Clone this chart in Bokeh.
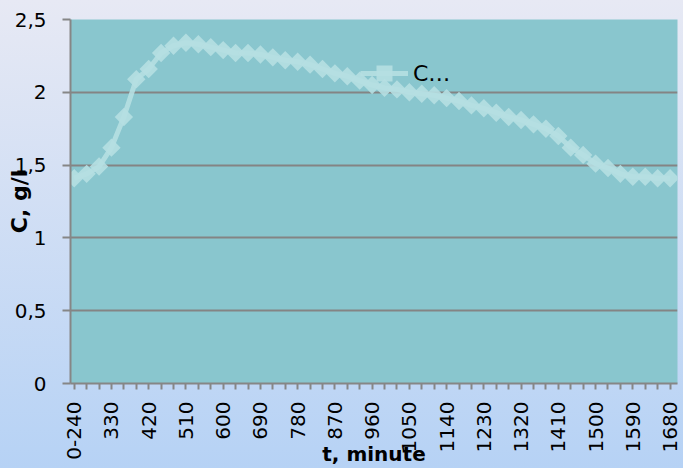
import math
from bokeh.plotting import figure
from bokeh.models import FixedTicker, Legend, LegendItem, Range1d, InlineStyleSheet
from bokeh.embed import file_html
from bokeh.resources import INLINE

categories = ["0-240", "270", "300", "330", "360", "390", "420", "450", "480", "510",
              "540", "570", "600", "630", "660", "690", "720", "750", "780", "810",
              "840", "870", "900", "930", "960", "990", "1020", "1050", "1080", "1110",
              "1140", "1170", "1200", "1230", "1260", "1290", "1320", "1350", "1380", "1410",
              "1440", "1470", "1500", "1530", "1560", "1590", "1620", "1650", "1680"]
values = [1.41, 1.44, 1.49, 1.62, 1.83, 2.09, 2.16, 2.27, 2.32, 2.34,
          2.33, 2.31, 2.29, 2.27, 2.27, 2.26, 2.24, 2.22, 2.21, 2.19,
          2.16, 2.13, 2.11, 2.08, 2.05, 2.03, 2.02, 2.00, 1.99, 1.98,
          1.96, 1.94, 1.91, 1.89, 1.86, 1.83, 1.81, 1.78, 1.75, 1.70,
          1.62, 1.57, 1.51, 1.48, 1.44, 1.42, 1.42, 1.41, 1.41]
y_ticks = [0, 0.5, 1, 1.5, 2, 2.5]
y_tick_labels = ["0", "0,5", "1", "1,5", "2", "2,5"]
label_every = 3
series_name = "C…"
x_title = "t, minute"
y_title = "C, g/l"

xs = list(range(len(categories)))

GRAD = "linear-gradient(to bottom, #E7E9F4 0%, #B6D2F5 100%)"

sheet = InlineStyleSheet(css=(
    ":host { background: " + GRAD + " !important; }"
    " rect[fill='#FFFFFF'], rect[fill='#ffffff'], rect[fill='white'] { fill: none !important; }"
    " .bk-Canvas, .bk-canvas-wrapper, .bk-layer, canvas, svg { background: transparent !important; }"
))

p = figure(width=683, height=468, output_backend="svg", toolbar_location=None,
           x_range=Range1d(-0.3, 48.6), y_range=Range1d(0, 2.5),
           min_border_left=70, min_border_right=6, min_border_top=19, min_border_bottom=85)
p.styles = {"background": GRAD}
p.stylesheets = [sheet]
p.border_fill_color = None
p.background_fill_color = "#89C6CE"
p.outline_line_color = None

FONT = "DejaVu Sans"

# y axis
p.yaxis.ticker = FixedTicker(ticks=y_ticks)
p.yaxis.major_label_overrides = {t: l for t, l in zip(y_ticks, y_tick_labels)}
p.yaxis.axis_line_color = "#868686"
p.yaxis.axis_line_width = 2
p.yaxis.major_tick_line_color = "#868686"
p.yaxis.major_tick_line_width = 2
p.yaxis.major_tick_out = 8
p.yaxis.major_tick_in = 0
p.yaxis.minor_tick_line_color = None
p.yaxis.major_label_standoff = 16
p.yaxis.major_label_text_font = FONT
p.yaxis.major_label_text_font_size = "20px"
p.yaxis.major_label_text_color = "black"
p.yaxis.axis_label = y_title
p.yaxis.axis_label_text_font = FONT
p.yaxis.axis_label_text_font_style = "bold"
p.yaxis.axis_label_text_font_size = "22px"
p.yaxis.axis_label_text_color = "black"
p.yaxis.axis_label_standoff = -20

# x axis
p.xaxis.ticker = FixedTicker(ticks=xs)
p.xaxis.major_label_overrides = {i: (c if i % label_every == 0 else "") for i, c in enumerate(categories)}
p.xaxis.major_label_orientation = math.pi / 2
p.xaxis.axis_line_color = "#868686"
p.xaxis.axis_line_width = 2
p.xaxis.major_tick_line_color = "#868686"
p.xaxis.major_tick_line_width = 2
p.xaxis.major_tick_out = 6
p.xaxis.major_tick_in = 0
p.xaxis.minor_tick_line_color = None
p.xaxis.major_label_standoff = 12
p.xaxis.major_label_text_font = FONT
p.xaxis.major_label_text_font_size = "20px"
p.xaxis.major_label_text_color = "black"
p.xaxis.axis_label = x_title
p.xaxis.axis_label_text_font = FONT
p.xaxis.axis_label_text_font_style = "bold"
p.xaxis.axis_label_text_font_size = "20px"
p.xaxis.axis_label_text_color = "black"
p.xaxis.axis_label_standoff = -21

p.xgrid.grid_line_color = None
p.ygrid.ticker = FixedTicker(ticks=y_ticks)
p.ygrid.grid_line_color = "#848484"
p.ygrid.grid_line_width = 2

mcol = "#B6DFE2"
lr = p.line(xs, values, line_color=mcol, line_width=5, line_alpha=0.9)
sr = p.scatter(xs, values, marker="square", angle=math.pi / 4, size=13,
               fill_color=mcol, line_color=None, fill_alpha=0.9)

legend = Legend(items=[LegendItem(label=series_name, renderers=[lr, sr])],
                location=(290, 290), glyph_width=48, glyph_height=40,
                padding=0, spacing=0, margin=0, border_line_color=None,
                background_fill_alpha=0, label_standoff=5,
                label_text_font=FONT, label_text_font_size="22px", label_text_color="black")
p.add_layout(legend)

html = file_html(p, INLINE)
css = ("<style>html, body { margin: 0; padding: 0; min-height: 468px; background: "
       + GRAD + " !important; }</style>")
html = html.replace("</head>", css + "</head>", 1)
open("out.html", "w").write(html)
